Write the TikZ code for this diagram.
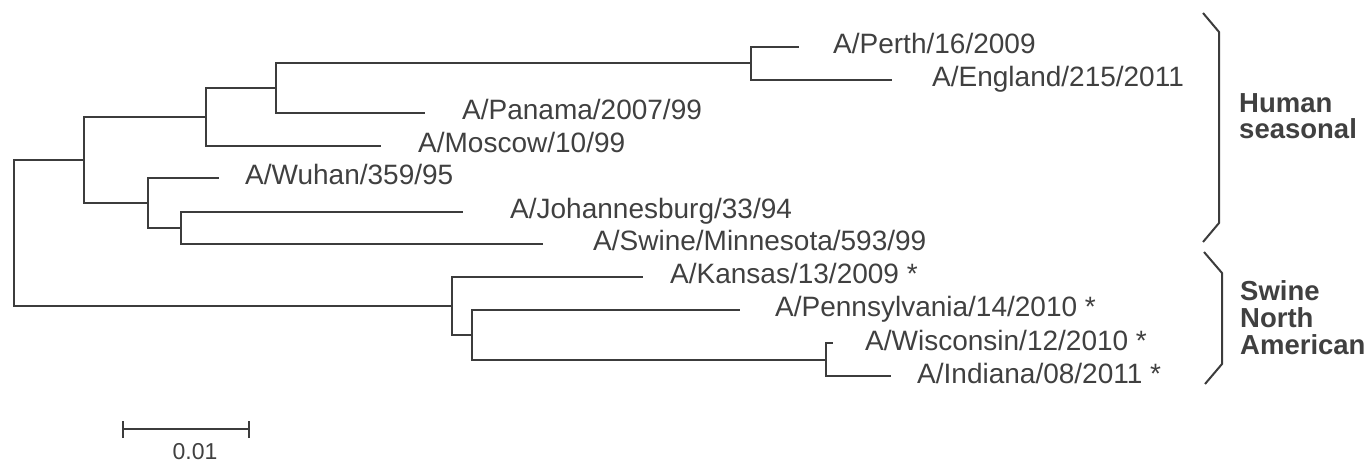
\documentclass[tikz,border=0pt]{standalone}
\usepackage{fontspec}
\setmainfont{Liberation Sans}
\definecolor{ink}{HTML}{3C3C3C}
\definecolor{txt}{HTML}{404040}
\begin{document}
\begin{tikzpicture}[x=1bp,y=-1bp,
  branch/.style={draw=ink,line width=2bp,line join=miter},
  leaf/.style={anchor=base west,inner sep=0pt,text=txt,font=\fontsize{28bp}{30bp}\selectfont},
  clade/.style={anchor=base west,inner sep=0pt,text=txt,align=left,font=\fontsize{27.5bp}{26.5bp}\selectfont\bfseries},
  bracket/.style={draw=ink,line width=2bp,line join=miter}]
\useasboundingbox (0,0) rectangle (1372,462);
% internal nodes
\coordinate (r) at (14,233);
\coordinate (a) at (84,160);
\coordinate (b) at (206,117);
\coordinate (d) at (276,88);
\coordinate (e) at (751,63.5);
\coordinate (c) at (148,203);
\coordinate (f) at (181,228);
\coordinate (s) at (452,306);
\coordinate (g) at (472,334.5);
\coordinate (h) at (826,359.5);
% tips
\coordinate (tperth) at (799,47);
\coordinate (tengland) at (892,80);
\coordinate (tpanama) at (425,113);
\coordinate (tmoscow) at (381,146);
\coordinate (twuhan) at (219,178);
\coordinate (tjoh) at (463,212);
\coordinate (tminn) at (543,244);
\coordinate (tkansas) at (643,277);
\coordinate (tpenn) at (740,310);
\coordinate (twisc) at (833,343);
\coordinate (tind) at (891,376);
% labels
\node[leaf] (perth) at (833,54) {A/Perth/16/2009};
\node[leaf] (england) at (932,87) {A/England/215/2011};
\node[leaf] (panama) at (462,120) {A/Panama/2007/99};
\node[leaf] (moscow) at (418,153) {A/Moscow/10/99};
\node[leaf] (wuhan) at (245,185) {A/Wuhan/359/95};
\node[leaf] (joh) at (510,219) {A/Johannesburg/33/94};
\node[leaf] (minn) at (593,251) {A/Swine/Minnesota/593/99};
\node[leaf] (kansas) at (670,284) {A/Kansas/13/2009 *};
\node[leaf] (penn) at (775,317) {A/Pennsylvania/14/2010 *};
\node[leaf] (wisc) at (865,350) {A/Wisconsin/12/2010 *};
\node[leaf] (ind) at (917,383) {A/Indiana/08/2011 *};
% branches
\draw[branch] (r) |- (a);
\draw[branch] (r) |- (s);
\draw[branch] (a) |- (b);
\draw[branch] (a) |- (c);
\draw[branch] (b) |- (d);
\draw[branch] (b) |- (tmoscow);
\draw[branch] (d) |- (e);
\draw[branch] (d) |- (tpanama);
\draw[branch] (e) |- (tperth);
\draw[branch] (e) |- (tengland);
\draw[branch] (c) |- (twuhan);
\draw[branch] (c) |- (f);
\draw[branch] (f) |- (tjoh);
\draw[branch] (f) |- (tminn);
\draw[branch] (s) |- (tkansas);
\draw[branch] (s) |- (g);
\draw[branch] (g) |- (tpenn);
\draw[branch] (g) |- (h);
\draw[branch] (h) |- (twisc);
\draw[branch] (h) |- (tind);
% brackets
\coordinate (hb1) at (1203,13);
\coordinate (hb2) at (1219,32);
\coordinate (hb3) at (1219,223);
\coordinate (hb4) at (1203,242);
\draw[bracket] (hb1) -- (hb2) -- (hb3) -- (hb4);
\coordinate (sb1) at (1204,252);
\coordinate (sb2) at (1222,273);
\coordinate (sb3) at (1222,364);
\coordinate (sb4) at (1205,384);
\draw[bracket] (sb1) -- (sb2) -- (sb3) -- (sb4);
\node[clade] (human) at (1239,139) {Human\\seasonal};
\node[clade] (swine) at (1240,354) {Swine\\North\\American};
% scale bar
\coordinate (sl) at (123,429);
\coordinate (sr) at (249,429);
\draw[branch] (sl) -- (sr);
\draw[branch] ([yshift=-9bp]sl) -- ([yshift=8bp]sl);
\draw[branch] ([yshift=-9bp]sr) -- ([yshift=8bp]sr);
\node[anchor=base,inner sep=0pt,text=txt,font=\fontsize{23bp}{24bp}\selectfont] (scale) at (195,459) {0.01};
\end{tikzpicture}
\end{document}
